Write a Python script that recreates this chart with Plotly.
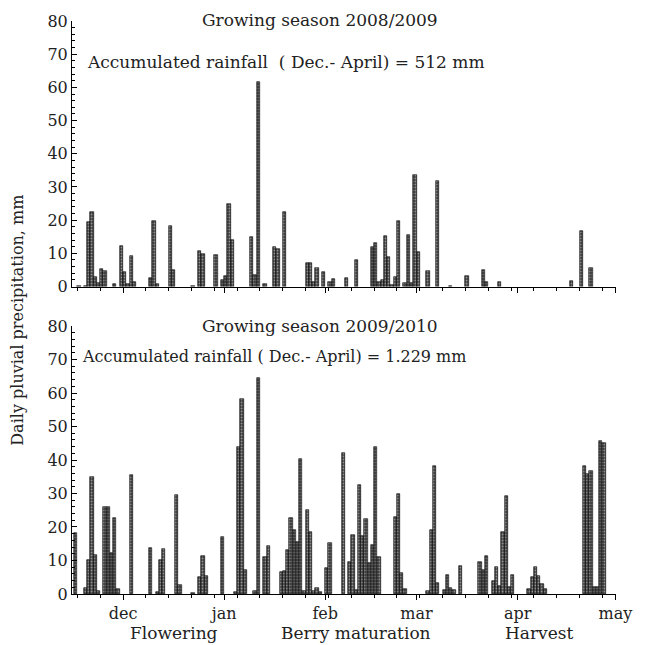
import pandas as pd
import plotly.graph_objects as go

# ---------------- data ----------------
season1_label = "Growing season 2008/2009"
season1_total = "Accumulated rainfall  ( Dec.- April) = 512 mm"
season1_dates = [
    "2008-11-17", "2008-11-19", "2008-11-20", "2008-11-21", "2008-11-22", "2008-11-23",
    "2008-11-24", "2008-11-25", "2008-11-28", "2008-11-30", "2008-12-01", "2008-12-02",
    "2008-12-03", "2008-12-04", "2008-12-09", "2008-12-10", "2008-12-11", "2008-12-15",
    "2008-12-16", "2008-12-22", "2008-12-24", "2008-12-25", "2008-12-29", "2008-12-31",
    "2009-01-01", "2009-01-02", "2009-01-03", "2009-01-09", "2009-01-10", "2009-01-11",
    "2009-01-13", "2009-01-16", "2009-01-17", "2009-01-19", "2009-01-26", "2009-01-27",
    "2009-01-28", "2009-01-29", "2009-01-31", "2009-02-02", "2009-02-03", "2009-02-07",
    "2009-02-10", "2009-02-15", "2009-02-16", "2009-02-17", "2009-02-18", "2009-02-19",
    "2009-02-20", "2009-02-21", "2009-02-22", "2009-02-23", "2009-02-25", "2009-02-26",
    "2009-02-27", "2009-02-28", "2009-03-01", "2009-03-04", "2009-03-07", "2009-03-11",
    "2009-03-16", "2009-03-21", "2009-03-22", "2009-03-26", "2009-04-17", "2009-04-20",
    "2009-04-23",
]
season1_mm = [
    0.2, 0.3, 19.3, 22.4, 2.8, 1.0,
    5.4, 4.8, 0.8, 12.2, 4.5, 0.8,
    9.1, 1.5, 2.5, 19.7, 0.8, 18.3,
    4.9, 0.3, 10.8, 9.8, 9.4, 2.0,
    3.2, 24.9, 13.9, 14.9, 3.4, 61.7,
    0.8, 12.0, 11.2, 22.6, 7.0, 7.0,
    1.3, 5.5, 4.4, 1.5, 2.3, 2.5,
    8.0, 12.0, 13.2, 1.5, 2.0, 15.3,
    9.0, 0.5, 2.8, 19.7, 1.0, 15.6,
    1.0, 33.5, 10.3, 4.6, 31.8, 0.2,
    3.1, 5.0, 1.5, 1.5, 1.6, 16.7,
    5.6,
]

season2_label = "Growing season 2009/2010"
season2_total = "Accumulated rainfall ( Dec.- April) = 1.229 mm"
season2_dates = [
    "2009-11-16", "2009-11-19", "2009-11-20", "2009-11-21", "2009-11-22", "2009-11-23",
    "2009-11-25", "2009-11-26", "2009-11-27", "2009-11-28", "2009-11-29", "2009-12-03",
    "2009-12-09", "2009-12-11", "2009-12-12", "2009-12-13", "2009-12-17", "2009-12-18",
    "2009-12-22", "2009-12-24", "2009-12-25", "2009-12-26", "2009-12-31", "2010-01-04",
    "2010-01-05", "2010-01-06", "2010-01-07", "2010-01-10", "2010-01-11", "2010-01-13",
    "2010-01-14", "2010-01-18", "2010-01-19", "2010-01-20", "2010-01-21", "2010-01-22",
    "2010-01-23", "2010-01-24", "2010-01-25", "2010-01-26", "2010-01-27", "2010-01-28",
    "2010-01-29", "2010-01-30", "2010-02-01", "2010-02-02", "2010-02-06", "2010-02-08",
    "2010-02-09", "2010-02-10", "2010-02-11", "2010-02-12", "2010-02-13", "2010-02-14",
    "2010-02-15", "2010-02-16", "2010-02-17", "2010-02-22", "2010-02-23", "2010-02-24",
    "2010-02-25", "2010-03-04", "2010-03-05", "2010-03-06", "2010-03-07", "2010-03-09",
    "2010-03-10", "2010-03-11", "2010-03-12", "2010-03-14", "2010-03-20", "2010-03-21",
    "2010-03-22", "2010-03-24", "2010-03-25", "2010-03-26", "2010-03-27", "2010-03-28",
    "2010-03-29", "2010-03-30", "2010-04-04", "2010-04-05", "2010-04-06", "2010-04-07",
    "2010-04-08", "2010-04-09", "2010-04-21", "2010-04-22", "2010-04-23", "2010-04-24",
    "2010-04-25", "2010-04-26", "2010-04-27",
]
season2_mm = [
    18.2, 1.9, 10.0, 35.0, 11.7, 1.0,
    26.1, 26.0, 12.1, 22.8, 1.5, 35.6,
    13.8, 0.5, 10.0, 13.4, 29.7, 2.8,
    0.3, 5.2, 11.2, 5.5, 17.1, 0.5,
    44.0, 58.3, 7.2, 0.8, 64.5, 11.1,
    14.4, 6.6, 6.8, 13.1, 22.8, 19.1,
    15.5, 40.2, 1.0, 25.2, 18.5, 1.0,
    1.7, 0.5, 7.7, 15.3, 42.0, 9.7,
    17.6, 1.3, 32.4, 17.2, 22.5, 9.2,
    14.5, 44.0, 11.0, 22.9, 30.0, 6.2,
    1.6, 0.8, 19.1, 38.2, 3.4, 1.1,
    5.7, 1.9, 1.2, 8.3, 9.5, 7.2,
    11.4, 3.8, 8.2, 2.5, 18.5, 29.2,
    2.2, 5.8, 1.5, 5.1, 8.2, 5.3,
    3.0, 1.4, 38.2, 35.8, 36.6, 2.2,
    2.0, 45.6, 45.0,
]

month_labels = ["dec", "jan", "feb", "mar", "apr", "may"]
phase_labels = ["Flowering", "Berry maturation", "Harvest"]
phase_dates = ["2009-12-16", "2010-02-10", "2010-04-07"]
y_title = "Daily pluvial precipitation, mm"

# ---------------- figure ----------------
FONT = "DejaVu Serif"
TXT = "#222222"
DAY = pd.Timedelta(days=1)
HALF = pd.Timedelta(hours=12)

fig = go.Figure()


def add_bars(dates, values, xa, ya):
    x = pd.to_datetime(dates) + HALF
    fig.add_trace(go.Bar(
        x=x, y=values, xaxis=xa, yaxis=ya,
        width=DAY.total_seconds() * 1000,
        marker=dict(
            color="#3a3a3a",
            line=dict(color="black", width=0.6),
            pattern=dict(shape=".", fgcolor="#e8e8e8", bgcolor="#3a3a3a",
                         size=3, solidity=0.35),
        ),
        showlegend=False, hoverinfo="skip",
    ))


add_bars(season1_dates, season1_mm, "x2", "y2")
add_bars(season2_dates, season2_mm, "x", "y")


def x_axis_cfg(year0, show_labels):
    start = pd.Timestamp(f"{year0}-11-15 08:40")
    end = pd.Timestamp(f"{year0 + 1}-05-01 04:00")
    months = pd.date_range(f"{year0}-12-01", f"{year0 + 1}-05-01", freq="MS")
    weeks = pd.date_range(f"{year0}-11-17", f"{year0 + 1}-04-30", freq="7D")
    return dict(
        type="date", range=[start, end],
        tickmode="array", tickvals=list(months), ticktext=month_labels,
        showticklabels=show_labels,
        ticks="outside", ticklen=5, tickwidth=1, tickcolor="black",
        minor=dict(tickmode="array", tickvals=list(weeks), ticks="outside",
                   ticklen=3, tickwidth=1, tickcolor="black"),
        showline=True, linecolor="black", linewidth=1,
        showgrid=False, zeroline=False,
        tickfont=dict(family=FONT, size=16, color=TXT),
    )


def y_axis_cfg(domain, anchor):
    return dict(
        domain=domain, anchor=anchor, range=[0, 80],
        tickmode="linear", tick0=0, dtick=10,
        ticks="inside", ticklen=5, tickwidth=1, tickcolor="black",
        minor=dict(dtick=2, ticks="inside", ticklen=3, tickwidth=1, tickcolor="black"),
        showline=True, linecolor="black", linewidth=1,
        showgrid=False, zeroline=False,
        tickfont=dict(family=FONT, size=16, color=TXT),
    )


fig.update_layout(
    width=645, height=645, autosize=False,
    margin=dict(l=72, r=29, t=21, b=51),
    paper_bgcolor="white", plot_bgcolor="white",
    bargap=0,
    xaxis=dict(**x_axis_cfg(2009, True), anchor="y", domain=[0, 1]),
    xaxis2=dict(**x_axis_cfg(2008, False), anchor="y2", domain=[0, 1]),
    yaxis=y_axis_cfg([0, 0.4677], "x"),
    yaxis2=y_axis_cfg([0.5366, 1], "x2"),
    font=dict(family=FONT, color=TXT),
)

ann = []
ann.append(dict(text=season1_label, xref="paper", yref="paper", x=0.456, y=1.0017,
                xanchor="center", yanchor="middle", showarrow=False,
                font=dict(family=FONT, size=17, color=TXT)))
ann.append(dict(text=season1_total, xref="paper", yref="paper", x=0.024, y=0.928,
                xanchor="left", yanchor="middle", showarrow=False,
                font=dict(family=FONT, size=17, color=TXT)))
ann.append(dict(text=season2_label, xref="paper", yref="paper", x=0.456, y=0.468,
                xanchor="center", yanchor="middle", showarrow=False,
                font=dict(family=FONT, size=17, color=TXT)))
ann.append(dict(text=season2_total, xref="paper", yref="paper", x=0.014, y=0.414,
                xanchor="left", yanchor="middle", showarrow=False,
                font=dict(family=FONT, size=16, color=TXT)))
for lab, d in zip(phase_labels, phase_dates):
    ann.append(dict(text=lab, xref="x", yref="paper", x=pd.Timestamp(d) + HALF, y=-0.068,
                    xanchor="center", yanchor="middle", showarrow=False,
                    font=dict(family=FONT, size=17, color=TXT)))
ann.append(dict(text=y_title, xref="paper", yref="paper", x=-0.1, y=0.478,
                xanchor="center", yanchor="middle", textangle=-90, showarrow=False,
                font=dict(family=FONT, size=16, color=TXT)))
fig.update_layout(annotations=ann)

fig.write_html(
    "out.html",
    config={"displayModeBar": False},
    post_script="document.body.style.margin='0';document.body.style.overflow='hidden';",
)
